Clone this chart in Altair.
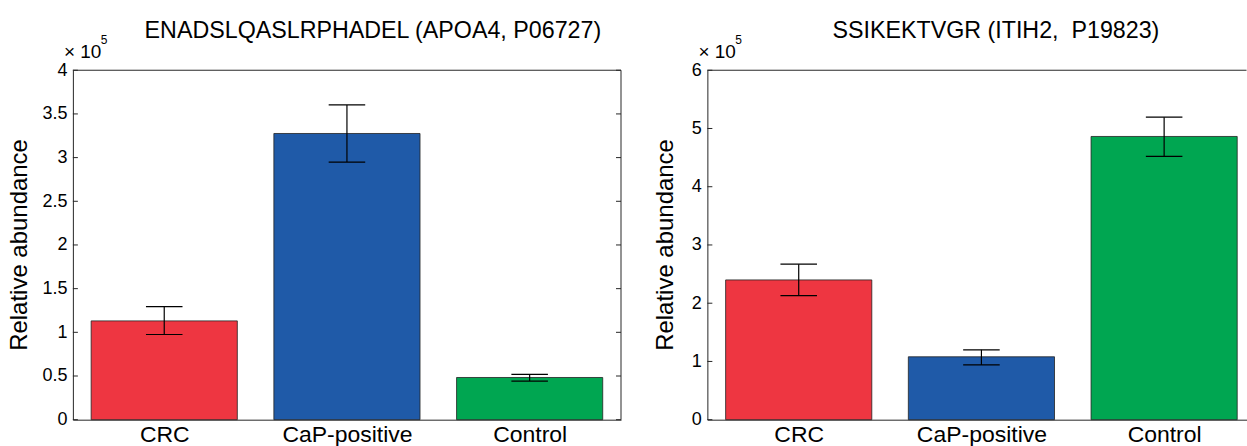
import json
import pandas as pd
import altair as alt

# ---------------- data ----------------
categories = ["CRC", "CaP-positive", "Control"]
bar_colors = ["#EE3641", "#1F5AA8", "#00A651"]

apoa4_title = "ENADSLQASLRPHADEL (APOA4, P06727)"
apoa4_mean = [1.131, 3.276, 0.483]
apoa4_low = [0.975, 2.949, 0.442]
apoa4_high = [1.295, 3.603, 0.518]
apoa4_ticks = [0, 0.5, 1, 1.5, 2, 2.5, 3, 3.5, 4]

itih2_title = "SSIKEKTVGR (ITIH2,\u00a0 P19823)"
itih2_mean = [2.40, 1.08, 4.863]
itih2_low = [2.13, 0.94, 4.52]
itih2_high = [2.67, 1.20, 5.194]
itih2_ticks = [0, 1, 2, 3, 4, 5, 6]

y_title = "Relative abundance"
exponent_base = "\u00d7 10"
exponent = "5"

# ---------------- style ----------------
FONT = "Liberation Sans"
LINE = "#262626"
H = 350
BAR_HALF = 0.4
CAP_HALF = 0.1


def one_row():
    return pd.DataFrame({"k": [0]})


def panel(title, mean, low, high, ticks, width, xmax, right_box, title_x, ytitle_x):
    n = len(categories)
    df = pd.DataFrame({
        "cat": categories,
        "pos": list(range(1, n + 1)),
        "mean": mean,
        "low": low,
        "high": high,
    })
    base = alt.Chart(df).transform_calculate(
        x0=f"datum.pos - {BAR_HALF}", x1=f"datum.pos + {BAR_HALF}",
        c0=f"datum.pos - {CAP_HALF}", c1=f"datum.pos + {CAP_HALF}",
        base="0",
    )
    x_scale = alt.Scale(domain=[0.5, xmax], nice=False, zero=False)
    y_scale = alt.Scale(domain=[ticks[0], ticks[-1]], nice=False, zero=True)
    label_expr = f"{json.dumps(categories)}[round(datum.value) - 1]"
    x_axis = alt.Axis(
        values=list(range(1, n + 1)), labelExpr=label_expr,
        ticks=False, grid=False, domain=True, domainColor=LINE, domainWidth=1,
        labelFont=FONT, labelFontSize=23, labelColor="black", labelPadding=4,
        labelFlush=False, labelOverlap=False, title=None)
    y_axis = alt.Axis(
        values=ticks, format="~g", ticks=False, grid=False, domain=True,
        domainColor=LINE, domainWidth=1, labelFont=FONT, labelFontSize=18,
        labelColor="black", labelPadding=6, labelOverlap=False, title=None)

    bars = base.mark_bar(stroke="#222222", strokeWidth=0.8).encode(
        x=alt.X("x0:Q", scale=x_scale, axis=x_axis),
        x2="x1:Q",
        y=alt.Y("mean:Q", scale=y_scale, axis=y_axis),
        y2="base:Q",
        color=alt.Color("cat:N", scale=alt.Scale(domain=categories, range=bar_colors), legend=None),
    )

    err = base.mark_rule(color="black", strokeWidth=1.2).encode(
        x=alt.X("pos:Q", scale=x_scale, axis=x_axis),
        y=alt.Y("low:Q", scale=y_scale, axis=y_axis),
        y2="high:Q",
    )
    cap_lo = base.mark_rule(color="black", strokeWidth=1.2).encode(
        x=alt.X("c0:Q", scale=x_scale, axis=x_axis), x2="c1:Q",
        y=alt.Y("low:Q", scale=y_scale, axis=y_axis),
    )
    cap_hi = base.mark_rule(color="black", strokeWidth=1.2).encode(
        x=alt.X("c0:Q", scale=x_scale, axis=x_axis), x2="c1:Q",
        y=alt.Y("high:Q", scale=y_scale, axis=y_axis),
    )

    tdf = pd.DataFrame({"tick": ticks})
    tick_l = alt.Chart(tdf).mark_rule(color=LINE, strokeWidth=1).encode(
        x=alt.value(0), x2=alt.value(5),
        y=alt.Y("tick:Q", scale=y_scale, axis=y_axis),
    )
    layers = [bars, err, cap_lo, cap_hi, tick_l]

    top_box = alt.Chart(one_row()).mark_rule(color=LINE, strokeWidth=1).encode(
        x=alt.value(0), x2=alt.value(width), y=alt.value(0)
    )
    layers.append(top_box)
    if right_box:
        right_line = alt.Chart(one_row()).mark_rule(color=LINE, strokeWidth=1).encode(
            x=alt.value(width), y=alt.value(0), y2=alt.value(H)
        )
        tick_r = alt.Chart(tdf).mark_rule(color=LINE, strokeWidth=1).encode(
            x=alt.value(width - 5), x2=alt.value(width),
            y=alt.Y("tick:Q", scale=y_scale, axis=y_axis),
        )
        layers += [right_line, tick_r]

    title_txt = alt.Chart(one_row()).mark_text(
        text=title, font=FONT, fontSize=23.3, color="black",
        align="center", baseline="alphabetic",
    ).encode(x=alt.value(title_x), y=alt.value(-32.5))
    ytitle_txt = alt.Chart(one_row()).mark_text(
        text=y_title, font=FONT, fontSize=24, color="black",
        align="center", baseline="middle", angle=270,
    ).encode(x=alt.value(ytitle_x), y=alt.value(H / 2))
    exp_base = alt.Chart(one_row()).mark_text(
        text=exponent_base, font=FONT, fontSize=19, color="black",
        align="left", baseline="alphabetic",
    ).encode(x=alt.value(-9), y=alt.value(-12))
    exp_txt = alt.Chart(one_row()).mark_text(
        text=exponent, font=FONT, fontSize=12, color="black",
        align="left", baseline="alphabetic",
    ).encode(x=alt.value(28), y=alt.value(-26))
    layers += [title_txt, ytitle_txt, exp_base, exp_txt]

    return alt.layer(*layers).properties(width=width, height=H)


left = panel(apoa4_title, apoa4_mean, apoa4_low, apoa4_high, apoa4_ticks,
             width=549, xmax=3.5, right_box=True, title_x=300.5, ytitle_x=-52.5)
right = panel(itih2_title, itih2_mean, itih2_low, itih2_high, itih2_ticks,
              width=540, xmax=0.5 + 540 / 183.0, right_box=False, title_x=289, ytitle_x=-41)

chart = alt.hconcat(left, right, spacing=32.5).properties(
    padding={"left": 8, "top": 18, "right": 0, "bottom": 0}
).configure_view(stroke=None)

chart.save("out.html", embed_options={"renderer": "svg", "actions": False})
